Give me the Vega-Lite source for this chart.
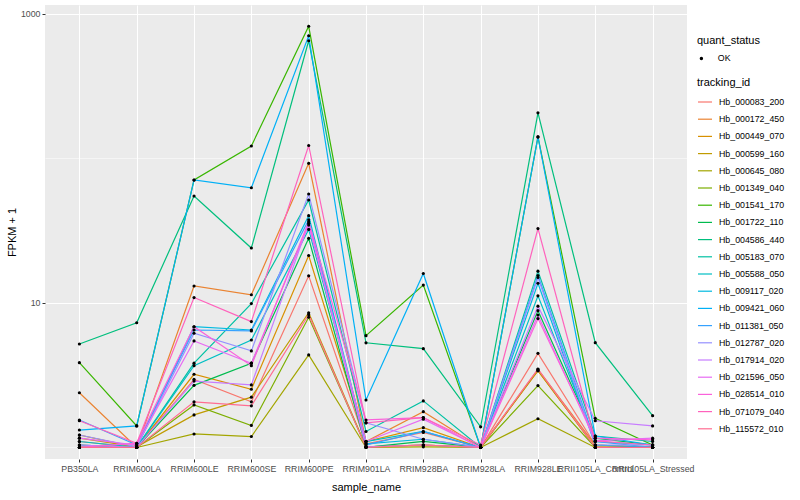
{
  "$schema": "https://vega.github.io/schema/vega-lite/v6.json",
  "width": 642,
  "height": 454,
  "autosize": "none",
  "padding": {"left": 45, "top": 5, "right": 113, "bottom": 41},
  "background": "white",
  "config": {
    "font": "Liberation Sans",
    "view": {"fill": "#EBEBEB", "stroke": null},
    "axis": {
      "domain": false,
      "gridColor": "#FFFFFF",
      "gridWidth": 1.07,
      "tickColor": "#333333",
      "tickSize": 3,
      "tickWidth": 1,
      "labelColor": "#4D4D4D",
      "labelFontSize": 8.8,
      "labelFont": "Liberation Sans",
      "titleFont": "Liberation Sans",
      "titleFontSize": 11,
      "titleFontWeight": "normal",
      "titleColor": "#000000"
    },
    "legend": {
      "titleFont": "Liberation Sans",
      "titleFontSize": 11,
      "titleFontWeight": "normal",
      "titleColor": "#000000",
      "labelFont": "Liberation Sans",
      "labelFontSize": 8.8,
      "labelColor": "#000000",
      "padding": 0
    }
  },
  "data": {
    "values": [
      {"sample_name":"PB350LA","tracking_id":"Hb_000083_200","fpkm":1.10,"quant_status":"OK"},
      {"sample_name":"RRIM600LA","tracking_id":"Hb_000083_200","fpkm":1.00,"quant_status":"OK"},
      {"sample_name":"RRIM600LE","tracking_id":"Hb_000083_200","fpkm":2.96,"quant_status":"OK"},
      {"sample_name":"RRIM600SE","tracking_id":"Hb_000083_200","fpkm":2.07,"quant_status":"OK"},
      {"sample_name":"RRIM600PE","tracking_id":"Hb_000083_200","fpkm":15.4,"quant_status":"OK"},
      {"sample_name":"RRIM901LA","tracking_id":"Hb_000083_200","fpkm":1.06,"quant_status":"OK"},
      {"sample_name":"RRIM928BA","tracking_id":"Hb_000083_200","fpkm":1.27,"quant_status":"OK"},
      {"sample_name":"RRIM928LA","tracking_id":"Hb_000083_200","fpkm":1.00,"quant_status":"OK"},
      {"sample_name":"RRIM928LE","tracking_id":"Hb_000083_200","fpkm":4.48,"quant_status":"OK"},
      {"sample_name":"RRII105LA_Control","tracking_id":"Hb_000083_200","fpkm":1.04,"quant_status":"OK"},
      {"sample_name":"RRII105LA_Stressed","tracking_id":"Hb_000083_200","fpkm":1.00,"quant_status":"OK"},

      {"sample_name":"PB350LA","tracking_id":"Hb_000172_450","fpkm":2.39,"quant_status":"OK"},
      {"sample_name":"RRIM600LA","tracking_id":"Hb_000172_450","fpkm":1.00,"quant_status":"OK"},
      {"sample_name":"RRIM600LE","tracking_id":"Hb_000172_450","fpkm":13.1,"quant_status":"OK"},
      {"sample_name":"RRIM600SE","tracking_id":"Hb_000172_450","fpkm":11.4,"quant_status":"OK"},
      {"sample_name":"RRIM600PE","tracking_id":"Hb_000172_450","fpkm":92.6,"quant_status":"OK"},
      {"sample_name":"RRIM901LA","tracking_id":"Hb_000172_450","fpkm":1.10,"quant_status":"OK"},
      {"sample_name":"RRIM928BA","tracking_id":"Hb_000172_450","fpkm":1.77,"quant_status":"OK"},
      {"sample_name":"RRIM928LA","tracking_id":"Hb_000172_450","fpkm":1.00,"quant_status":"OK"},
      {"sample_name":"RRIM928LE","tracking_id":"Hb_000172_450","fpkm":3.47,"quant_status":"OK"},
      {"sample_name":"RRII105LA_Control","tracking_id":"Hb_000172_450","fpkm":1.04,"quant_status":"OK"},
      {"sample_name":"RRII105LA_Stressed","tracking_id":"Hb_000172_450","fpkm":1.00,"quant_status":"OK"},

      {"sample_name":"PB350LA","tracking_id":"Hb_000449_070","fpkm":1.22,"quant_status":"OK"},
      {"sample_name":"RRIM600LA","tracking_id":"Hb_000449_070","fpkm":1.00,"quant_status":"OK"},
      {"sample_name":"RRIM600LE","tracking_id":"Hb_000449_070","fpkm":3.21,"quant_status":"OK"},
      {"sample_name":"RRIM600SE","tracking_id":"Hb_000449_070","fpkm":2.53,"quant_status":"OK"},
      {"sample_name":"RRIM600PE","tracking_id":"Hb_000449_070","fpkm":21.3,"quant_status":"OK"},
      {"sample_name":"RRIM901LA","tracking_id":"Hb_000449_070","fpkm":1.10,"quant_status":"OK"},
      {"sample_name":"RRIM928BA","tracking_id":"Hb_000449_070","fpkm":1.37,"quant_status":"OK"},
      {"sample_name":"RRIM928LA","tracking_id":"Hb_000449_070","fpkm":1.00,"quant_status":"OK"},
      {"sample_name":"RRIM928LE","tracking_id":"Hb_000449_070","fpkm":3.40,"quant_status":"OK"},
      {"sample_name":"RRII105LA_Control","tracking_id":"Hb_000449_070","fpkm":1.00,"quant_status":"OK"},
      {"sample_name":"RRII105LA_Stressed","tracking_id":"Hb_000449_070","fpkm":1.00,"quant_status":"OK"},

      {"sample_name":"PB350LA","tracking_id":"Hb_000599_160","fpkm":1.16,"quant_status":"OK"},
      {"sample_name":"RRIM600LA","tracking_id":"Hb_000599_160","fpkm":1.01,"quant_status":"OK"},
      {"sample_name":"RRIM600LE","tracking_id":"Hb_000599_160","fpkm":1.68,"quant_status":"OK"},
      {"sample_name":"RRIM600SE","tracking_id":"Hb_000599_160","fpkm":2.23,"quant_status":"OK"},
      {"sample_name":"RRIM600PE","tracking_id":"Hb_000599_160","fpkm":8.56,"quant_status":"OK"},
      {"sample_name":"RRIM901LA","tracking_id":"Hb_000599_160","fpkm":1.01,"quant_status":"OK"},
      {"sample_name":"RRIM928BA","tracking_id":"Hb_000599_160","fpkm":1.04,"quant_status":"OK"},
      {"sample_name":"RRIM928LA","tracking_id":"Hb_000599_160","fpkm":1.00,"quant_status":"OK"},
      {"sample_name":"RRIM928LE","tracking_id":"Hb_000599_160","fpkm":3.40,"quant_status":"OK"},
      {"sample_name":"RRII105LA_Control","tracking_id":"Hb_000599_160","fpkm":1.00,"quant_status":"OK"},
      {"sample_name":"RRII105LA_Stressed","tracking_id":"Hb_000599_160","fpkm":1.00,"quant_status":"OK"},

      {"sample_name":"PB350LA","tracking_id":"Hb_000645_080","fpkm":1.04,"quant_status":"OK"},
      {"sample_name":"RRIM600LA","tracking_id":"Hb_000645_080","fpkm":1.00,"quant_status":"OK"},
      {"sample_name":"RRIM600LE","tracking_id":"Hb_000645_080","fpkm":1.24,"quant_status":"OK"},
      {"sample_name":"RRIM600SE","tracking_id":"Hb_000645_080","fpkm":1.19,"quant_status":"OK"},
      {"sample_name":"RRIM600PE","tracking_id":"Hb_000645_080","fpkm":4.37,"quant_status":"OK"},
      {"sample_name":"RRIM901LA","tracking_id":"Hb_000645_080","fpkm":1.00,"quant_status":"OK"},
      {"sample_name":"RRIM928BA","tracking_id":"Hb_000645_080","fpkm":1.01,"quant_status":"OK"},
      {"sample_name":"RRIM928LA","tracking_id":"Hb_000645_080","fpkm":1.00,"quant_status":"OK"},
      {"sample_name":"RRIM928LE","tracking_id":"Hb_000645_080","fpkm":1.58,"quant_status":"OK"},
      {"sample_name":"RRII105LA_Control","tracking_id":"Hb_000645_080","fpkm":1.00,"quant_status":"OK"},
      {"sample_name":"RRII105LA_Stressed","tracking_id":"Hb_000645_080","fpkm":1.00,"quant_status":"OK"},

      {"sample_name":"PB350LA","tracking_id":"Hb_001349_040","fpkm":1.00,"quant_status":"OK"},
      {"sample_name":"RRIM600LA","tracking_id":"Hb_001349_040","fpkm":1.00,"quant_status":"OK"},
      {"sample_name":"RRIM600LE","tracking_id":"Hb_001349_040","fpkm":1.97,"quant_status":"OK"},
      {"sample_name":"RRIM600SE","tracking_id":"Hb_001349_040","fpkm":1.42,"quant_status":"OK"},
      {"sample_name":"RRIM600PE","tracking_id":"Hb_001349_040","fpkm":7.96,"quant_status":"OK"},
      {"sample_name":"RRIM901LA","tracking_id":"Hb_001349_040","fpkm":1.01,"quant_status":"OK"},
      {"sample_name":"RRIM928BA","tracking_id":"Hb_001349_040","fpkm":1.04,"quant_status":"OK"},
      {"sample_name":"RRIM928LA","tracking_id":"Hb_001349_040","fpkm":1.00,"quant_status":"OK"},
      {"sample_name":"RRIM928LE","tracking_id":"Hb_001349_040","fpkm":2.68,"quant_status":"OK"},
      {"sample_name":"RRII105LA_Control","tracking_id":"Hb_001349_040","fpkm":1.00,"quant_status":"OK"},
      {"sample_name":"RRII105LA_Stressed","tracking_id":"Hb_001349_040","fpkm":1.00,"quant_status":"OK"},

      {"sample_name":"PB350LA","tracking_id":"Hb_001541_170","fpkm":3.86,"quant_status":"OK"},
      {"sample_name":"RRIM600LA","tracking_id":"Hb_001541_170","fpkm":1.41,"quant_status":"OK"},
      {"sample_name":"RRIM600LE","tracking_id":"Hb_001541_170","fpkm":71,"quant_status":"OK"},
      {"sample_name":"RRIM600SE","tracking_id":"Hb_001541_170","fpkm":122,"quant_status":"OK"},
      {"sample_name":"RRIM600PE","tracking_id":"Hb_001541_170","fpkm":822,"quant_status":"OK"},
      {"sample_name":"RRIM901LA","tracking_id":"Hb_001541_170","fpkm":5.94,"quant_status":"OK"},
      {"sample_name":"RRIM928BA","tracking_id":"Hb_001541_170","fpkm":13.3,"quant_status":"OK"},
      {"sample_name":"RRIM928LA","tracking_id":"Hb_001541_170","fpkm":1.00,"quant_status":"OK"},
      {"sample_name":"RRIM928LE","tracking_id":"Hb_001541_170","fpkm":141,"quant_status":"OK"},
      {"sample_name":"RRII105LA_Control","tracking_id":"Hb_001541_170","fpkm":1.59,"quant_status":"OK"},
      {"sample_name":"RRII105LA_Stressed","tracking_id":"Hb_001541_170","fpkm":1.04,"quant_status":"OK"},

      {"sample_name":"PB350LA","tracking_id":"Hb_001722_110","fpkm":1.00,"quant_status":"OK"},
      {"sample_name":"RRIM600LA","tracking_id":"Hb_001722_110","fpkm":1.00,"quant_status":"OK"},
      {"sample_name":"RRIM600LE","tracking_id":"Hb_001722_110","fpkm":2.69,"quant_status":"OK"},
      {"sample_name":"RRIM600SE","tracking_id":"Hb_001722_110","fpkm":3.83,"quant_status":"OK"},
      {"sample_name":"RRIM600PE","tracking_id":"Hb_001722_110","fpkm":28.0,"quant_status":"OK"},
      {"sample_name":"RRIM901LA","tracking_id":"Hb_001722_110","fpkm":1.00,"quant_status":"OK"},
      {"sample_name":"RRIM928BA","tracking_id":"Hb_001722_110","fpkm":1.10,"quant_status":"OK"},
      {"sample_name":"RRIM928LA","tracking_id":"Hb_001722_110","fpkm":1.00,"quant_status":"OK"},
      {"sample_name":"RRIM928LE","tracking_id":"Hb_001722_110","fpkm":8.85,"quant_status":"OK"},
      {"sample_name":"RRII105LA_Control","tracking_id":"Hb_001722_110","fpkm":1.16,"quant_status":"OK"},
      {"sample_name":"RRII105LA_Stressed","tracking_id":"Hb_001722_110","fpkm":1.04,"quant_status":"OK"},

      {"sample_name":"PB350LA","tracking_id":"Hb_004586_440","fpkm":5.2,"quant_status":"OK"},
      {"sample_name":"RRIM600LA","tracking_id":"Hb_004586_440","fpkm":7.3,"quant_status":"OK"},
      {"sample_name":"RRIM600LE","tracking_id":"Hb_004586_440","fpkm":55,"quant_status":"OK"},
      {"sample_name":"RRIM600SE","tracking_id":"Hb_004586_440","fpkm":24,"quant_status":"OK"},
      {"sample_name":"RRIM600PE","tracking_id":"Hb_004586_440","fpkm":653,"quant_status":"OK"},
      {"sample_name":"RRIM901LA","tracking_id":"Hb_004586_440","fpkm":5.3,"quant_status":"OK"},
      {"sample_name":"RRIM928BA","tracking_id":"Hb_004586_440","fpkm":4.83,"quant_status":"OK"},
      {"sample_name":"RRIM928LA","tracking_id":"Hb_004586_440","fpkm":1.39,"quant_status":"OK"},
      {"sample_name":"RRIM928LE","tracking_id":"Hb_004586_440","fpkm":207,"quant_status":"OK"},
      {"sample_name":"RRII105LA_Control","tracking_id":"Hb_004586_440","fpkm":5.31,"quant_status":"OK"},
      {"sample_name":"RRII105LA_Stressed","tracking_id":"Hb_004586_440","fpkm":1.66,"quant_status":"OK"},

      {"sample_name":"PB350LA","tracking_id":"Hb_005183_070","fpkm":1.00,"quant_status":"OK"},
      {"sample_name":"RRIM600LA","tracking_id":"Hb_005183_070","fpkm":1.00,"quant_status":"OK"},
      {"sample_name":"RRIM600LE","tracking_id":"Hb_005183_070","fpkm":3.83,"quant_status":"OK"},
      {"sample_name":"RRIM600SE","tracking_id":"Hb_005183_070","fpkm":9.9,"quant_status":"OK"},
      {"sample_name":"RRIM600PE","tracking_id":"Hb_005183_070","fpkm":51.6,"quant_status":"OK"},
      {"sample_name":"RRIM901LA","tracking_id":"Hb_005183_070","fpkm":1.29,"quant_status":"OK"},
      {"sample_name":"RRIM928BA","tracking_id":"Hb_005183_070","fpkm":2.10,"quant_status":"OK"},
      {"sample_name":"RRIM928LA","tracking_id":"Hb_005183_070","fpkm":1.00,"quant_status":"OK"},
      {"sample_name":"RRIM928LE","tracking_id":"Hb_005183_070","fpkm":16.6,"quant_status":"OK"},
      {"sample_name":"RRII105LA_Control","tracking_id":"Hb_005183_070","fpkm":1.20,"quant_status":"OK"},
      {"sample_name":"RRII105LA_Stressed","tracking_id":"Hb_005183_070","fpkm":1.10,"quant_status":"OK"},

      {"sample_name":"PB350LA","tracking_id":"Hb_005588_050","fpkm":1.10,"quant_status":"OK"},
      {"sample_name":"RRIM600LA","tracking_id":"Hb_005588_050","fpkm":1.00,"quant_status":"OK"},
      {"sample_name":"RRIM600LE","tracking_id":"Hb_005588_050","fpkm":3.68,"quant_status":"OK"},
      {"sample_name":"RRIM600SE","tracking_id":"Hb_005588_050","fpkm":5.54,"quant_status":"OK"},
      {"sample_name":"RRIM600PE","tracking_id":"Hb_005588_050","fpkm":32.3,"quant_status":"OK"},
      {"sample_name":"RRIM901LA","tracking_id":"Hb_005588_050","fpkm":1.10,"quant_status":"OK"},
      {"sample_name":"RRIM928BA","tracking_id":"Hb_005588_050","fpkm":1.29,"quant_status":"OK"},
      {"sample_name":"RRIM928LA","tracking_id":"Hb_005588_050","fpkm":1.00,"quant_status":"OK"},
      {"sample_name":"RRIM928LE","tracking_id":"Hb_005588_050","fpkm":11.2,"quant_status":"OK"},
      {"sample_name":"RRII105LA_Control","tracking_id":"Hb_005588_050","fpkm":1.10,"quant_status":"OK"},
      {"sample_name":"RRII105LA_Stressed","tracking_id":"Hb_005588_050","fpkm":1.04,"quant_status":"OK"},

      {"sample_name":"PB350LA","tracking_id":"Hb_009117_020","fpkm":1.04,"quant_status":"OK"},
      {"sample_name":"RRIM600LA","tracking_id":"Hb_009117_020","fpkm":1.00,"quant_status":"OK"},
      {"sample_name":"RRIM600LE","tracking_id":"Hb_009117_020","fpkm":6.85,"quant_status":"OK"},
      {"sample_name":"RRIM600SE","tracking_id":"Hb_009117_020","fpkm":6.5,"quant_status":"OK"},
      {"sample_name":"RRIM600PE","tracking_id":"Hb_009117_020","fpkm":40.2,"quant_status":"OK"},
      {"sample_name":"RRIM901LA","tracking_id":"Hb_009117_020","fpkm":1.06,"quant_status":"OK"},
      {"sample_name":"RRIM928BA","tracking_id":"Hb_009117_020","fpkm":1.14,"quant_status":"OK"},
      {"sample_name":"RRIM928LA","tracking_id":"Hb_009117_020","fpkm":1.00,"quant_status":"OK"},
      {"sample_name":"RRIM928LE","tracking_id":"Hb_009117_020","fpkm":13.7,"quant_status":"OK"},
      {"sample_name":"RRII105LA_Control","tracking_id":"Hb_009117_020","fpkm":1.04,"quant_status":"OK"},
      {"sample_name":"RRII105LA_Stressed","tracking_id":"Hb_009117_020","fpkm":1.00,"quant_status":"OK"},

      {"sample_name":"PB350LA","tracking_id":"Hb_009421_060","fpkm":1.32,"quant_status":"OK"},
      {"sample_name":"RRIM600LA","tracking_id":"Hb_009421_060","fpkm":1.41,"quant_status":"OK"},
      {"sample_name":"RRIM600LE","tracking_id":"Hb_009421_060","fpkm":71,"quant_status":"OK"},
      {"sample_name":"RRIM600SE","tracking_id":"Hb_009421_060","fpkm":62.7,"quant_status":"OK"},
      {"sample_name":"RRIM600PE","tracking_id":"Hb_009421_060","fpkm":707,"quant_status":"OK"},
      {"sample_name":"RRIM901LA","tracking_id":"Hb_009421_060","fpkm":2.13,"quant_status":"OK"},
      {"sample_name":"RRIM928BA","tracking_id":"Hb_009421_060","fpkm":16.0,"quant_status":"OK"},
      {"sample_name":"RRIM928LA","tracking_id":"Hb_009421_060","fpkm":1.00,"quant_status":"OK"},
      {"sample_name":"RRIM928LE","tracking_id":"Hb_009421_060","fpkm":141,"quant_status":"OK"},
      {"sample_name":"RRII105LA_Control","tracking_id":"Hb_009421_060","fpkm":1.20,"quant_status":"OK"},
      {"sample_name":"RRII105LA_Stressed","tracking_id":"Hb_009421_060","fpkm":1.04,"quant_status":"OK"},

      {"sample_name":"PB350LA","tracking_id":"Hb_011381_050","fpkm":1.55,"quant_status":"OK"},
      {"sample_name":"RRIM600LA","tracking_id":"Hb_011381_050","fpkm":1.04,"quant_status":"OK"},
      {"sample_name":"RRIM600LE","tracking_id":"Hb_011381_050","fpkm":6.5,"quant_status":"OK"},
      {"sample_name":"RRIM600SE","tracking_id":"Hb_011381_050","fpkm":6.4,"quant_status":"OK"},
      {"sample_name":"RRIM600PE","tracking_id":"Hb_011381_050","fpkm":37.6,"quant_status":"OK"},
      {"sample_name":"RRIM901LA","tracking_id":"Hb_011381_050","fpkm":1.04,"quant_status":"OK"},
      {"sample_name":"RRIM928BA","tracking_id":"Hb_011381_050","fpkm":1.29,"quant_status":"OK"},
      {"sample_name":"RRIM928LA","tracking_id":"Hb_011381_050","fpkm":1.00,"quant_status":"OK"},
      {"sample_name":"RRIM928LE","tracking_id":"Hb_011381_050","fpkm":15.5,"quant_status":"OK"},
      {"sample_name":"RRII105LA_Control","tracking_id":"Hb_011381_050","fpkm":1.10,"quant_status":"OK"},
      {"sample_name":"RRII105LA_Stressed","tracking_id":"Hb_011381_050","fpkm":1.00,"quant_status":"OK"},

      {"sample_name":"PB350LA","tracking_id":"Hb_012787_020","fpkm":1.22,"quant_status":"OK"},
      {"sample_name":"RRIM600LA","tracking_id":"Hb_012787_020","fpkm":1.01,"quant_status":"OK"},
      {"sample_name":"RRIM600LE","tracking_id":"Hb_012787_020","fpkm":6.17,"quant_status":"OK"},
      {"sample_name":"RRIM600SE","tracking_id":"Hb_012787_020","fpkm":4.66,"quant_status":"OK"},
      {"sample_name":"RRIM600PE","tracking_id":"Hb_012787_020","fpkm":56.8,"quant_status":"OK"},
      {"sample_name":"RRIM901LA","tracking_id":"Hb_012787_020","fpkm":1.48,"quant_status":"OK"},
      {"sample_name":"RRIM928BA","tracking_id":"Hb_012787_020","fpkm":1.14,"quant_status":"OK"},
      {"sample_name":"RRIM928LA","tracking_id":"Hb_012787_020","fpkm":1.00,"quant_status":"OK"},
      {"sample_name":"RRIM928LE","tracking_id":"Hb_012787_020","fpkm":15.0,"quant_status":"OK"},
      {"sample_name":"RRII105LA_Control","tracking_id":"Hb_012787_020","fpkm":1.04,"quant_status":"OK"},
      {"sample_name":"RRII105LA_Stressed","tracking_id":"Hb_012787_020","fpkm":1.04,"quant_status":"OK"},

      {"sample_name":"PB350LA","tracking_id":"Hb_017914_020","fpkm":1.04,"quant_status":"OK"},
      {"sample_name":"RRIM600LA","tracking_id":"Hb_017914_020","fpkm":1.00,"quant_status":"OK"},
      {"sample_name":"RRIM600LE","tracking_id":"Hb_017914_020","fpkm":2.88,"quant_status":"OK"},
      {"sample_name":"RRIM600SE","tracking_id":"Hb_017914_020","fpkm":2.71,"quant_status":"OK"},
      {"sample_name":"RRIM600PE","tracking_id":"Hb_017914_020","fpkm":35.6,"quant_status":"OK"},
      {"sample_name":"RRIM901LA","tracking_id":"Hb_017914_020","fpkm":1.01,"quant_status":"OK"},
      {"sample_name":"RRIM928BA","tracking_id":"Hb_017914_020","fpkm":1.04,"quant_status":"OK"},
      {"sample_name":"RRIM928LA","tracking_id":"Hb_017914_020","fpkm":1.00,"quant_status":"OK"},
      {"sample_name":"RRIM928LE","tracking_id":"Hb_017914_020","fpkm":9.5,"quant_status":"OK"},
      {"sample_name":"RRII105LA_Control","tracking_id":"Hb_017914_020","fpkm":1.53,"quant_status":"OK"},
      {"sample_name":"RRII105LA_Stressed","tracking_id":"Hb_017914_020","fpkm":1.41,"quant_status":"OK"},

      {"sample_name":"PB350LA","tracking_id":"Hb_021596_050","fpkm":1.16,"quant_status":"OK"},
      {"sample_name":"RRIM600LA","tracking_id":"Hb_021596_050","fpkm":1.04,"quant_status":"OK"},
      {"sample_name":"RRIM600LE","tracking_id":"Hb_021596_050","fpkm":5.46,"quant_status":"OK"},
      {"sample_name":"RRIM600SE","tracking_id":"Hb_021596_050","fpkm":3.83,"quant_status":"OK"},
      {"sample_name":"RRIM600PE","tracking_id":"Hb_021596_050","fpkm":34.6,"quant_status":"OK"},
      {"sample_name":"RRIM901LA","tracking_id":"Hb_021596_050","fpkm":1.10,"quant_status":"OK"},
      {"sample_name":"RRIM928BA","tracking_id":"Hb_021596_050","fpkm":1.57,"quant_status":"OK"},
      {"sample_name":"RRIM928LA","tracking_id":"Hb_021596_050","fpkm":1.00,"quant_status":"OK"},
      {"sample_name":"RRIM928LE","tracking_id":"Hb_021596_050","fpkm":8.26,"quant_status":"OK"},
      {"sample_name":"RRII105LA_Control","tracking_id":"Hb_021596_050","fpkm":1.11,"quant_status":"OK"},
      {"sample_name":"RRII105LA_Stressed","tracking_id":"Hb_021596_050","fpkm":1.16,"quant_status":"OK"},

      {"sample_name":"PB350LA","tracking_id":"Hb_028514_010","fpkm":1.00,"quant_status":"OK"},
      {"sample_name":"RRIM600LA","tracking_id":"Hb_028514_010","fpkm":1.07,"quant_status":"OK"},
      {"sample_name":"RRIM600LE","tracking_id":"Hb_028514_010","fpkm":6.85,"quant_status":"OK"},
      {"sample_name":"RRIM600SE","tracking_id":"Hb_028514_010","fpkm":3.68,"quant_status":"OK"},
      {"sample_name":"RRIM600PE","tracking_id":"Hb_028514_010","fpkm":36.5,"quant_status":"OK"},
      {"sample_name":"RRIM901LA","tracking_id":"Hb_028514_010","fpkm":1.55,"quant_status":"OK"},
      {"sample_name":"RRIM928BA","tracking_id":"Hb_028514_010","fpkm":1.61,"quant_status":"OK"},
      {"sample_name":"RRIM928LA","tracking_id":"Hb_028514_010","fpkm":1.00,"quant_status":"OK"},
      {"sample_name":"RRIM928LE","tracking_id":"Hb_028514_010","fpkm":7.8,"quant_status":"OK"},
      {"sample_name":"RRII105LA_Control","tracking_id":"Hb_028514_010","fpkm":1.16,"quant_status":"OK"},
      {"sample_name":"RRII105LA_Stressed","tracking_id":"Hb_028514_010","fpkm":1.13,"quant_status":"OK"},

      {"sample_name":"PB350LA","tracking_id":"Hb_071079_040","fpkm":1.53,"quant_status":"OK"},
      {"sample_name":"RRIM600LA","tracking_id":"Hb_071079_040","fpkm":1.07,"quant_status":"OK"},
      {"sample_name":"RRIM600LE","tracking_id":"Hb_071079_040","fpkm":10.9,"quant_status":"OK"},
      {"sample_name":"RRIM600SE","tracking_id":"Hb_071079_040","fpkm":7.43,"quant_status":"OK"},
      {"sample_name":"RRIM600PE","tracking_id":"Hb_071079_040","fpkm":123,"quant_status":"OK"},
      {"sample_name":"RRIM901LA","tracking_id":"Hb_071079_040","fpkm":1.48,"quant_status":"OK"},
      {"sample_name":"RRIM928BA","tracking_id":"Hb_071079_040","fpkm":1.61,"quant_status":"OK"},
      {"sample_name":"RRIM928LA","tracking_id":"Hb_071079_040","fpkm":1.04,"quant_status":"OK"},
      {"sample_name":"RRIM928LE","tracking_id":"Hb_071079_040","fpkm":32.7,"quant_status":"OK"},
      {"sample_name":"RRII105LA_Control","tracking_id":"Hb_071079_040","fpkm":1.11,"quant_status":"OK"},
      {"sample_name":"RRII105LA_Stressed","tracking_id":"Hb_071079_040","fpkm":1.04,"quant_status":"OK"},

      {"sample_name":"PB350LA","tracking_id":"Hb_115572_010","fpkm":1.00,"quant_status":"OK"},
      {"sample_name":"RRIM600LA","tracking_id":"Hb_115572_010","fpkm":1.00,"quant_status":"OK"},
      {"sample_name":"RRIM600LE","tracking_id":"Hb_115572_010","fpkm":2.07,"quant_status":"OK"},
      {"sample_name":"RRIM600SE","tracking_id":"Hb_115572_010","fpkm":1.94,"quant_status":"OK"},
      {"sample_name":"RRIM600PE","tracking_id":"Hb_115572_010","fpkm":8.3,"quant_status":"OK"},
      {"sample_name":"RRIM901LA","tracking_id":"Hb_115572_010","fpkm":1.00,"quant_status":"OK"},
      {"sample_name":"RRIM928BA","tracking_id":"Hb_115572_010","fpkm":1.04,"quant_status":"OK"},
      {"sample_name":"RRIM928LA","tracking_id":"Hb_115572_010","fpkm":1.00,"quant_status":"OK"},
      {"sample_name":"RRIM928LE","tracking_id":"Hb_115572_010","fpkm":3.49,"quant_status":"OK"},
      {"sample_name":"RRII105LA_Control","tracking_id":"Hb_115572_010","fpkm":1.00,"quant_status":"OK"},
      {"sample_name":"RRII105LA_Stressed","tracking_id":"Hb_115572_010","fpkm":1.00,"quant_status":"OK"}
    ]
  },
  "encoding": {
    "x": {
      "field": "sample_name",
      "type": "nominal",
      "sort": ["PB350LA","RRIM600LA","RRIM600LE","RRIM600SE","RRIM600PE","RRIM901LA","RRIM928BA","RRIM928LA","RRIM928LE","RRII105LA_Control","RRII105LA_Stressed"],
      "scale": {"type": "point", "padding": 0.6},
      "axis": {"title": "sample_name", "labelAngle": 0, "labelOverlap": false, "labelBound": false, "labelPadding": 2, "titlePadding": 9, "grid": true}
    },
    "y": {
      "field": "fpkm",
      "type": "quantitative",
      "scale": {"type": "log", "domain": [0.832, 1154], "nice": false, "zero": false},
      "axis": {
        "title": "FPKM + 1",
        "values": [1, 10, 100, 1000],
        "labelExpr": "(datum.value == 10 || datum.value == 1000) ? format(datum.value, 'd') : ''",
        "tickOpacity": {"condition": {"test": "datum.value == 10 || datum.value == 1000", "value": 1}, "value": 0},
        "gridWidth": {"condition": {"test": "datum.value == 10 || datum.value == 1000", "value": 1.07}, "value": 0.53},
        "labelPadding": 2,
        "titlePadding": 3
      }
    }
  },
  "layer": [
    {
      "mark": {"type": "line", "strokeWidth": 1.2},
      "encoding": {
        "color": {
          "field": "tracking_id",
          "type": "nominal",
          "scale": {"range": ["#F8766D","#EA8331","#D89000","#C09B00","#A3A500","#7CAE00","#39B600","#00BB4E","#00BF7D","#00C1A3","#00BFC4","#00BAE0","#00B0F6","#35A2FF","#9590FF","#C77CFF","#E76BF3","#FA62DB","#FF62BC","#FF6C91"]},
          "legend": {
            "title": "tracking_id",
            "orient": "none",
            "legendX": 652,
            "legendY": 72,
            "symbolType": "stroke",
            "symbolSize": 196,
            "symbolStrokeWidth": 1.2,
            "rowPadding": 4.2,
            "labelOffset": 6,
            "titlePadding": 6
          }
        }
      }
    },
    {
      "mark": {"type": "point", "filled": true, "color": "#000000", "size": 10, "opacity": 1},
      "encoding": {
        "shape": {
          "field": "quant_status",
          "type": "nominal",
          "scale": {"range": ["circle"]},
          "legend": {
            "title": "quant_status",
            "orient": "none",
            "legendX": 652,
            "legendY": 30,
            "symbolFillColor": "#000000",
            "symbolStrokeColor": "#000000",
            "symbolSize": 12,
            "labelOffset": 12,
            "titlePadding": 8
          }
        }
      }
    }
  ]
}
